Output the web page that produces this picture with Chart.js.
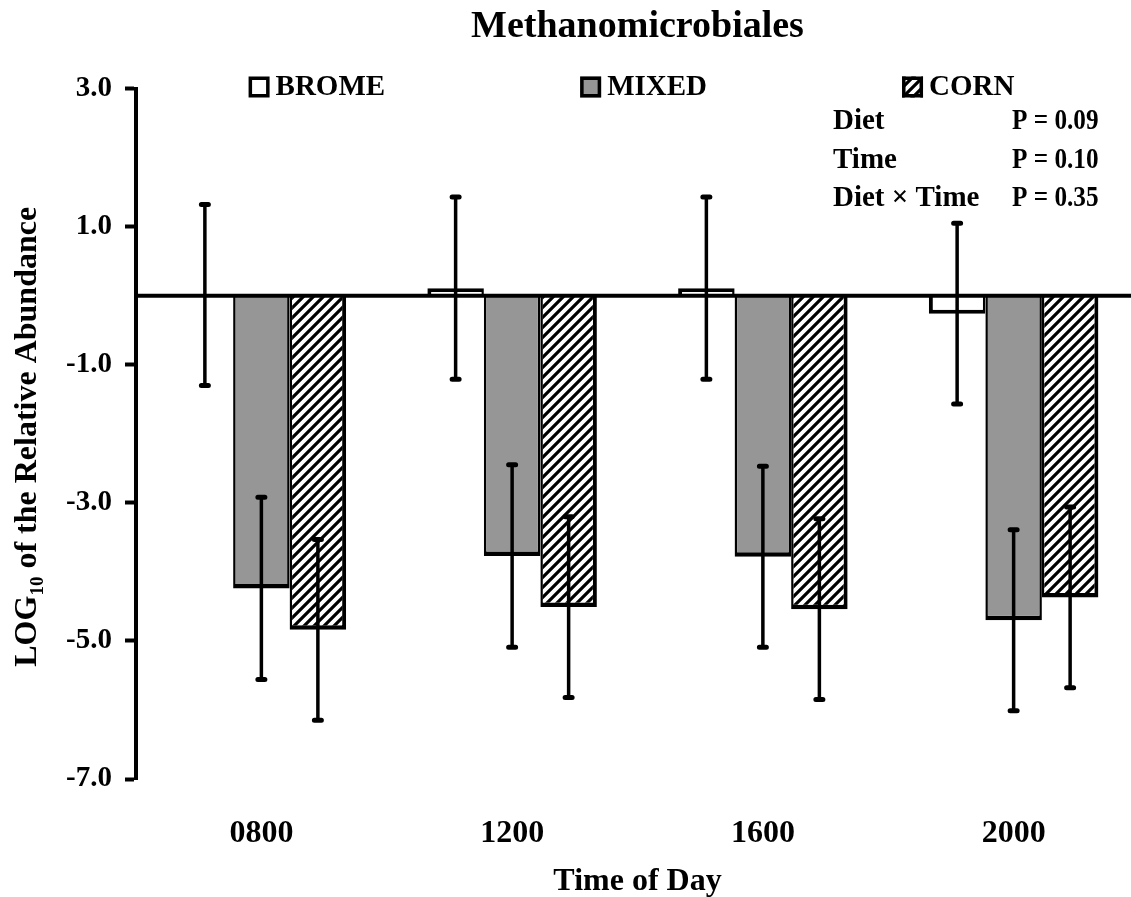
<!DOCTYPE html>
<html>
<head>
<meta charset="utf-8">
<title>Methanomicrobiales</title>
<script src="https://cdn.jsdelivr.net/npm/chart.js@4.4.1/dist/chart.umd.min.js"></script>
<style>
  html, body { margin: 0; padding: 0; background: #fff; overflow: hidden; }
</style>
</head>
<body>
<canvas id="methChart" width="1139" height="897"></canvas>
<script>
const times = ['0800', '1200', '1600', '2000'];
const diets = ['BROME', 'MIXED', 'CORN'];

// LOG10 relative abundance, means and standard errors
const bromeMeans = [0.01, 0.11, 0.11, -0.26];
const mixedMeans = [-4.24, -3.77, -3.78, -4.70];
const cornMeans = [-4.84, -4.51, -4.54, -4.37];
const bromeSE = [1.31, 1.32, 1.32, 1.31];
const mixedSE = [1.32, 1.32, 1.31, 1.31];
const cornSE = [1.31, 1.31, 1.31, 1.31];

const yTicks = [-7, -5, -3, -1, 1, 3];
const statLabels = ['Diet', 'Time', 'Diet \u00d7 Time'];
const statValues = ['P = 0.09', 'P = 0.10', 'P = 0.35'];

const SERIF = '"Liberation Serif", "Times New Roman", serif';

const ctx = document.getElementById('methChart').getContext('2d');

// diagonal "/" hatch for the corn bars
function makeHatch() {
  const c = document.createElement('canvas');
  c.width = 10; c.height = 10;
  const g = c.getContext('2d');
  g.fillStyle = '#fff';
  g.fillRect(0, 0, 10, 10);
  g.strokeStyle = '#000';
  g.lineWidth = 3.2;
  g.beginPath();
  g.moveTo(-5, 5); g.lineTo(5, -5);
  g.moveTo(0, 10); g.lineTo(10, 0);
  g.moveTo(5, 15); g.lineTo(15, 5);
  g.stroke();
  return ctx.createPattern(c, 'repeat');
}
const hatch = makeHatch();

// zero line + error bars
const errorBars = {
  id: 'errorBars',
  afterDatasetsDraw(chart) {
    const { ctx, chartArea, scales: { y } } = chart;
    const y0 = y.getPixelForValue(0);
    ctx.save();
    ctx.strokeStyle = '#000';
    ctx.lineWidth = 4;
    ctx.beginPath();
    ctx.moveTo(chartArea.left, y0);
    ctx.lineTo(chartArea.right, y0);
    ctx.stroke();

    chart.data.datasets.forEach((ds, i) => {
      chart.getDatasetMeta(i).data.forEach((bar, j) => {
        const v = ds.data[j], e = ds.errors[j];
        const top = y.getPixelForValue(v + e);
        const bot = y.getPixelForValue(v - e);
        ctx.lineCap = 'butt';
        ctx.lineWidth = 3.5;
        ctx.beginPath();
        ctx.moveTo(bar.x, top);
        ctx.lineTo(bar.x, bot);
        ctx.stroke();
        ctx.lineCap = 'round';
        ctx.lineWidth = 5;
        ctx.beginPath();
        ctx.moveTo(bar.x - 3.5, top); ctx.lineTo(bar.x + 3.5, top);
        ctx.moveTo(bar.x - 3.5, bot); ctx.lineTo(bar.x + 3.5, bot);
        ctx.stroke();
      });
    });
    ctx.restore();
  }
};

// legend row, stats block and rotated y title with subscript
const annotations = {
  id: 'annotations',
  afterDraw(chart) {
    const { ctx, chartArea } = chart;
    ctx.save();

    // legend
    ctx.font = 'bold 29px ' + SERIF;
    const box = 21, gap = 6, spacing = 195;
    const widths = diets.map(d => box + gap + ctx.measureText(d).width);
    const total = widths.reduce((a, b) => a + b, 0) + spacing * (diets.length - 1);
    let x = (chartArea.left + chartArea.right) / 2 - total / 2 - 6;
    const ly = 87;
    chart.data.datasets.forEach((ds, i) => {
      ctx.fillStyle = ds.backgroundColor;
      ctx.fillRect(x, ly - box / 2, box, box);
      ctx.strokeStyle = '#000';
      ctx.lineWidth = 3.5;
      ctx.strokeRect(x + 1.75, ly - box / 2 + 1.75, box - 3.5, box - 3.5);
      ctx.fillStyle = '#000';
      ctx.textBaseline = 'middle';
      ctx.textAlign = 'left';
      ctx.fillText(ds.label, x + box + gap, ly + 1);
      x += widths[i] + spacing;
    });

    // statistics
    ctx.font = 'bold 29px ' + SERIF;
    statLabels.forEach((s, i) => {
      const sy = 122 + i * 38.5;
      ctx.fillText(s, chartArea.left + 697, sy);
      ctx.save();
      ctx.translate(chartArea.left + 876, sy);
      ctx.scale(0.87, 1);
      ctx.fillText(statValues[i], 0, 0);
      ctx.restore();
    });

    // y axis title
    const big = 'bold 32px ' + SERIF, small = 'bold 19px ' + SERIF;
    const parts = [['LOG', big, 0], ['10', small, 7], [' of the Relative Abundance', big, 0]];
    let len = 0;
    parts.forEach(p => { ctx.font = p[1]; len += ctx.measureText(p[0]).width; });
    ctx.translate(36, (chartArea.top + chartArea.bottom) / 2 + 3);
    ctx.rotate(-Math.PI / 2);
    ctx.textBaseline = 'alphabetic';
    let tx = -len / 2;
    parts.forEach(p => {
      ctx.font = p[1];
      ctx.fillText(p[0], tx, p[2]);
      tx += ctx.measureText(p[0]).width;
    });
    ctx.restore();
  }
};

new Chart(ctx, {
  type: 'bar',
  data: {
    labels: times,
    datasets: [
      {
        label: diets[0],
        data: bromeMeans,
        errors: bromeSE,
        backgroundColor: '#ffffff',
        borderColor: '#000',
        borderWidth: { top: 4, bottom: 4, left: 4, right: 2.5 }
      },
      {
        label: diets[1],
        data: mixedMeans,
        errors: mixedSE,
        backgroundColor: '#969696',
        borderColor: '#000',
        borderWidth: { top: 4, bottom: 4.5, left: 2.5, right: 2.5 }
      },
      {
        label: diets[2],
        data: cornMeans,
        errors: cornSE,
        backgroundColor: hatch,
        borderColor: '#000',
        borderWidth: { top: 4, bottom: 4.5, left: 2.5, right: 4 }
      }
    ]
  },
  options: {
    responsive: false,
    animation: false,
    layout: { padding: 0 },
    categoryPercentage: 0.676,
    barPercentage: 1.0,
    plugins: {
      legend: { display: false },
      tooltip: { enabled: false },
      title: {
        display: true,
        fullSize: false,
        text: 'Methanomicrobiales',
        color: '#000',
        font: { family: SERIF, size: 38, weight: 'bold', lineHeight: 1.2 },
        padding: { top: 4, bottom: 39 }
      }
    },
    scales: {
      x: {
        grid: { display: false, drawTicks: false },
        border: { display: false },
        ticks: {
          color: '#000',
          padding: 36,
          font: { family: SERIF, size: 32, weight: 'bold' }
        },
        title: {
          display: true,
          text: 'Time of Day',
          color: '#000',
          font: { family: SERIF, size: 32, weight: 'bold', lineHeight: 0.95 },
          padding: { top: 0, bottom: 0 }
        },
        afterFit(scale) { scale.height = 118; }
      },
      y: {
        min: -7,
        max: 3,
        afterBuildTicks(scale) { scale.ticks = yTicks.map(v => ({ value: v })); },
        afterFit(scale) { scale.width = 136; },
        grid: {
          drawOnChartArea: false,
          drawTicks: true,
          tickLength: 11,
          tickWidth: 4,
          tickColor: '#000'
        },
        border: { display: true, color: '#000', width: 4 },
        ticks: {
          color: '#000',
          padding: 13,
          font: { family: SERIF, size: 29, weight: 'bold' },
          callback: v => Number(v).toFixed(1)
        }
      }
    }
  },
  plugins: [errorBars, annotations]
});
</script>
</body>
</html>
